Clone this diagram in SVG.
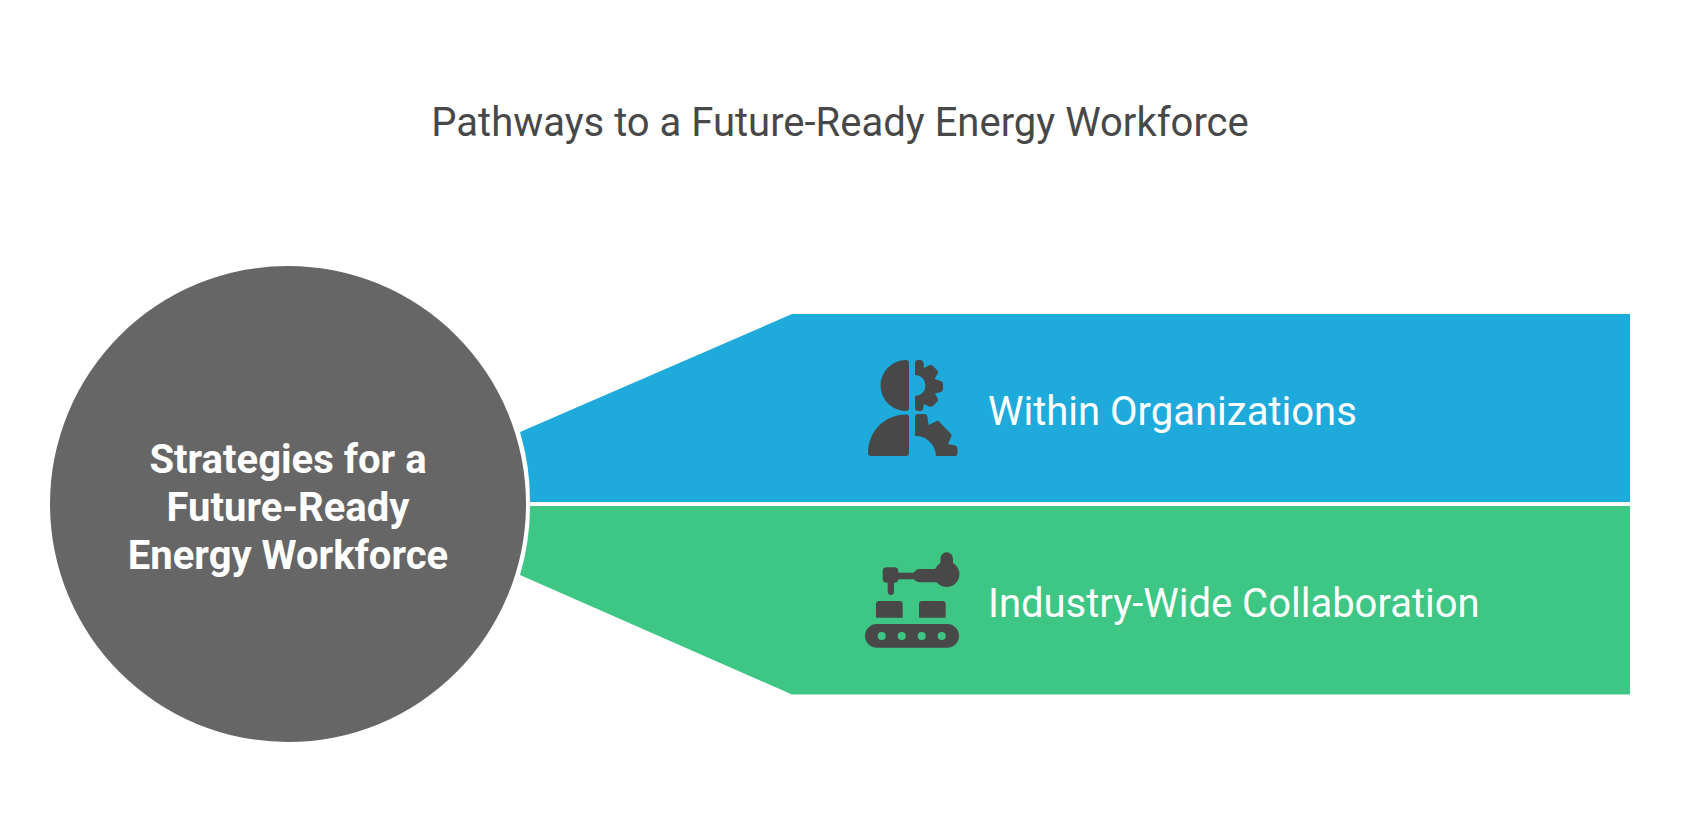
<svg xmlns="http://www.w3.org/2000/svg" width="1681" height="840" viewBox="0 0 1681 840">
<style>
.t{font-family:Roboto,"Liberation Sans",sans-serif;font-size:40px}
.title{fill:#484848;text-anchor:middle}
.hub{font-weight:700;fill:#fff;text-anchor:middle}
.lab{fill:#fff}
.ic{fill:#484848}
</style>
<rect width="1681" height="840" fill="#fff"/>
<text id="title" class="t title" x="840" y="136">Pathways to a Future-Ready Energy Workforce</text>
<g id="band-top">
<path d="M520 432L792 314H1630V502H530A242 242 0 0 0 520 432Z" fill="#1eabdc"/>
<g class="ic">
<path d="M906 360Q909 360 909 363V408Q909 411 906 411A25.500 25.500 0 0 1 906 360Z"/>
<path d="M915 363Q915 360 918 360H920Q923 360 923.500 363L924 368L930 365Q932 365 933 366L937 370Q938.500 372 938 373L934.500 379L941 381Q943 382 943 384V389Q943 391 941 392L935 393.500L938 399Q938.500 400.500 937 402L933 406Q931 407 929 406.500L924 404L923 409Q923 411 920 411H918Q915 411 915 408V396A10.500 10.500 0 0 0 915 375Z"/>
<path d="M906 414.500Q909 414.500 909 417V453Q909 456 906 456H871Q868 456 868 453C868 431 885 414.500 906 414.500Z"/>
<path d="M915 418Q915 414 918 414H924Q927 414 927.500 417L928.500 425L937 421Q938 420.500 939 421.500L951 434Q952 435 951.500 436L948 444L955 445.500Q957.500 446 957.500 449V453Q957.500 456 955 456H936A20.500 20.500 0 0 0 915 436Z"/>
</g>
<text class="t lab" x="988" y="425">Within Organizations</text>
</g>
<g id="band-bottom">
<path d="M520 575L792 694.500H1630V506H530A242 242 0 0 1 520 575Z" fill="#3ec685"/>
<g class="ic">
<rect x="940.400" y="552.300" width="12.600" height="24" rx="6.300"/>
<circle cx="946.700" cy="574.300" r="12.700"/>
<rect x="913" y="569" width="34" height="13.300" rx="6.600"/>
<rect x="897" y="572.700" width="18" height="6.600"/>
<rect x="882.700" y="567.300" width="15.600" height="15.400" rx="4"/>
<rect x="887.700" y="580" width="6.300" height="15" rx="3.150"/>
<path d="M879 601H899.700Q902.700 601 902.700 604V617.700H876V604Q876 601 879 601ZM922 601H942.700Q945.700 601 945.700 604V617.700H919V604Q919 601 922 601Z"/>
<path fill-rule="evenodd" d="M876.800 624H947.200A11.800 11.800 0 0 1 947.200 647.700H876.800A11.800 11.800 0 0 1 876.800 624ZM881.700 632A4 4 0 1 0 881.700 640A4 4 0 1 0 881.700 632ZM901.700 632A4 4 0 1 0 901.700 640A4 4 0 1 0 901.700 632ZM921.700 632A4 4 0 1 0 921.700 640A4 4 0 1 0 921.700 632ZM941.700 632A4 4 0 1 0 941.700 640A4 4 0 1 0 941.700 632Z"/>
</g>
<text class="t lab" x="988" y="617">Industry-Wide Collaboration</text>
</g>
<g id="hub">
<circle cx="288" cy="504" r="238" fill="#666"/>
<text class="t hub" x="288" y="473">Strategies for a</text>
<text class="t hub" x="288" y="521">Future-Ready</text>
<text class="t hub" x="288" y="569">Energy Workforce</text>
</g>
<g id="connectors"/>
</svg>
